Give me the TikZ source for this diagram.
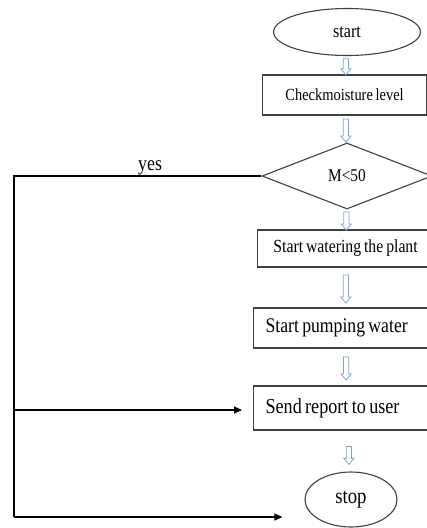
\documentclass[tikz,border=0pt]{standalone}
\usepackage{fontspec}
\setmainfont{Liberation Serif}
\newfontfamily\narrowserif[FakeStretch=0.85, WordSpace=0.75]{Liberation Serif}
\usetikzlibrary{arrows.meta,positioning,shapes.geometric,shapes.arrows}
\definecolor{flow-blue}{HTML}{7BA7D9}
\newcommand{\flowfont}[1]{\narrowserif\fontsize{#1}{#1}\selectfont}

\begin{document}
\begin{tikzpicture}[x=1pt, y=-1pt,
    box/.style={rectangle, draw=black!75, line width=1.2pt, inner xsep=12pt,
                inner ysep=0pt, anchor=west},
    term/.style={ellipse, draw=black!75, line width=1.1pt, inner sep=0pt},
    decide/.style={diamond, draw=black!75, line width=1.1pt, inner sep=0pt,
                minimum width=170pt, minimum height=66pt},
    hollow/.style={single arrow, draw=flow-blue, fill=white, line width=0.8pt,
                rotate=-90, inner xsep=0pt, inner ysep=2.2pt,
                single arrow head extend=2.5pt, single arrow tip angle=80},
    arrow/.style={-{Triangle[length=8pt, width=7pt]}, line width=1.2pt},
    line/.style={line width=1.2pt}
]
  \useasboundingbox (0,0) rectangle (427,528);
  \clip (0,0) rectangle (427,528);

  % Start
  \node[term, minimum width=147pt, minimum height=47pt,
        font=\flowfont{19}] (start) at (347,32) {start};

  % Check moisture
  \node[box, minimum width=164pt, minimum height=40pt, align=center,
        font=\flowfont{17}] (check) at (262,95) {Checkmoisture level};

  % Decision
  \node[decide, font=\flowfont{18}] (dec) at (347,176) {M<50};

  % Watering
  \node[box, minimum width=176pt, minimum height=37pt, align=center,
        font=\flowfont{18.5}] (water) at (257,248.5) {Start watering the plant};

  % Pumping
  \node[box, text width=161pt, minimum height=40pt, align=flush left,
        font=\flowfont{20.8}] (pump) at (253,328) {Start pumping water};

  % Report
  \node[box, text width=161pt, minimum height=44pt, align=flush left,
        font=\flowfont{21.3}] (send) at (253,408) {Send report to user};

  % Stop
  \node[term, minimum width=92pt, minimum height=55pt,
        font=\flowfont{22}] (stop) at (351,499.5) {stop};

  % Hollow arrows
  \path (start.south) -- node[hollow, minimum height=16pt] {} (check.north);
  \path (check.south) -- node[hollow, minimum height=23pt] {} (dec.north);
  \path (dec.south) -- node[hollow, minimum height=18pt] {} (water.north);
  \path (water.south) -- node[hollow, minimum height=28pt] {} (pump.north);
  \path (pump.south) -- node[hollow, minimum height=23pt] {} (send.north);
  \path (send.south) -- node[hollow, minimum height=18pt, pos=0.57] {} (stop.north);

  % Yes branch
  \coordinate (turn) at (14,176);
  \coordinate (j1) at (14,410);
  \coordinate (j2) at (14,517);
  \draw[line] (dec.west) -- node[pos=0.45, above, inner sep=0pt,
        font=\flowfont{21}] (yes) {yes} (turn) -- (j2);
  \draw[arrow, shorten >=11pt] (j1) -- (j1 -| send.west);
  \draw[arrow, shorten >=22pt] (j2) -- (j2 -| stop.west);

\end{tikzpicture}
\end{document}
